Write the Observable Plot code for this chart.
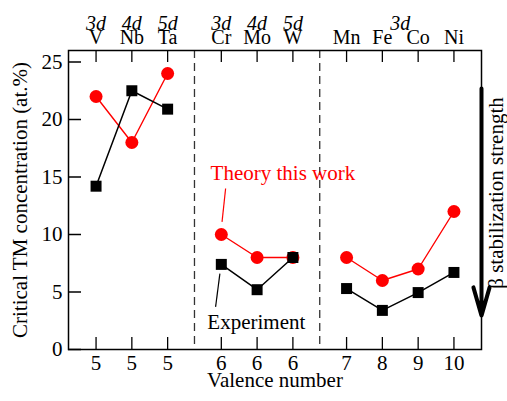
<!DOCTYPE html>
<html><head><meta charset="utf-8">
<script src="https://cdn.jsdelivr.net/npm/d3@7"></script>
<script src="https://cdn.jsdelivr.net/npm/@observablehq/plot@0.6"></script>
<style>
body{margin:0;background:#fff}
#chart svg{font-family:"Liberation Serif","Times New Roman",serif;font-size:21px;overflow:visible}
</style>
</head><body><div id="chart"></div>
<script>
// Data
const elements = ["V","Nb","Ta","Cr","Mo","W","Mn","Fe","Co","Ni"];
const valence = [5,5,5,6,6,6,7,8,9,10];
const positions = [1,2,3,4.5,5.5,6.5,8,9,10,11];
const groups = [1,1,1,2,2,2,3,3,3,3];
const theory = [22,18,24,10,8,8,8,6,7,12];
const experiment = [14.2,22.5,20.9,7.4,5.2,8,5.3,3.4,4.95,6.7];
const shellLabels = ["3d","4d","5d","3d","4d","5d","3d"];
const shellPos = [1,2,3,4.5,5.5,6.5,9.5];
const dividers = [3.75,7.25];
const yTicks = [0,5,10,15,20,25];
const annText = ["Theory this work","Experiment"];
const annX = [4.2,4.11];
const annY = [15.3,2.4];
const annColor = ["red","black"];
const leaderX1 = [4.62,4.46], leaderY1 = [14.0,6.6], leaderX2 = [4.52,4.34], leaderY2 = [11.1,3.7];
const xMin = 0.23, xMax = 11.77;
const arrowTop = 22.7, arrowBottom = 2.95;

const rows = elements.map((e,i)=>({element:e,pos:positions[i],group:groups[i],theory:theory[i],experiment:experiment[i]}));
const valenceByPos = new Map(positions.map((p,i)=>[p,String(valence[i])]));
const elementByPos = new Map(positions.map((p,i)=>[p,elements[i]]));
const FF = "Liberation Serif";

const chart = Plot.plot({
  width:507, height:401,
  marginLeft:68, marginRight:26, marginTop:50, marginBottom:52,
  style:{background:"white", color:"black"},
  x:{domain:[xMin,xMax], label:null},
  y:{domain:[0,26], label:null},
  marks:[
    Plot.ruleX(dividers,{stroke:"#333",strokeWidth:1.3,strokeDasharray:"8,5"}),
    Plot.frame({stroke:"black",strokeWidth:1.5}),
    Plot.axisY(yTicks,{anchor:"left",tickSize:-13,tickPadding:19,label:null,strokeWidth:1.5,fontSize:21,fontFamily:FF}),
    Plot.axisX(positions,{anchor:"bottom",tickSize:-12,tickPadding:18,tickFormat:d=>valenceByPos.get(d),label:null,strokeWidth:1.3,fontSize:21,fontFamily:FF}),
    Plot.axisX(positions,{anchor:"top",tickSize:-11,tickPadding:18,tickFormat:d=>elementByPos.get(d),label:null,strokeWidth:1.3,fontSize:20,fontFamily:FF}),
    Plot.text(shellLabels,{x:shellPos,text:d=>d,frameAnchor:"top",dy:-35,fontStyle:"italic",fontSize:20,fontFamily:FF}),
    Plot.line(rows,{x:"pos",y:"theory",z:"group",stroke:"red",strokeWidth:1.4}),
    Plot.dot(rows,{x:"pos",y:"theory",r:6.5,fill:"red",stroke:null}),
    Plot.line(rows,{x:"pos",y:"experiment",z:"group",stroke:"black",strokeWidth:1.5}),
    Plot.dot(rows,{x:"pos",y:"experiment",symbol:"square",r:6.2,fill:"black",stroke:null}),
    Plot.link(annText,{x1:leaderX1,y1:leaderY1,x2:leaderX2,y2:leaderY2,stroke:annColor,strokeWidth:1.2}),
    Plot.text(annText,{x:annX,y:annY,text:d=>d,fill:annColor,textAnchor:"start",fontSize:21,fontFamily:FF}),
    Plot.arrow([0],{x1:xMax,x2:xMax,y1:arrowTop,y2:arrowBottom,stroke:"black",strokeWidth:4,headLength:11,headAngle:32}),
    Plot.text(["β stabilization strength"],{frameAnchor:"right",textAnchor:"middle",rotate:-90,dx:15,dy:-7,text:d=>d,fontSize:21,fontFamily:FF}),
    Plot.text(["Critical TM concentration (at.%)"],{frameAnchor:"left",textAnchor:"middle",rotate:-90,dx:-48,text:d=>d,fontSize:21,fontFamily:FF}),
    Plot.text(["Valence number"],{frameAnchor:"bottom",dy:37,text:d=>d,fontSize:21,fontFamily:FF})
  ]
});
document.getElementById("chart").appendChild(chart);
</script>
</body></html>
